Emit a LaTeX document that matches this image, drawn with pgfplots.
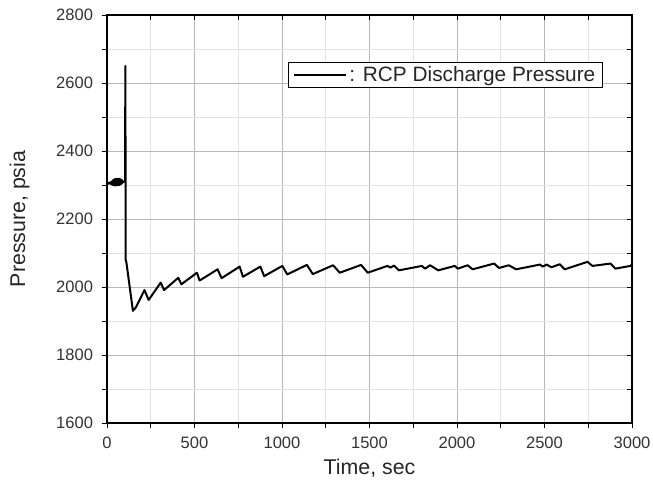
\documentclass[border=0pt]{standalone}
\usepackage{fontspec}
\setmainfont{Liberation Sans}
\usepackage{pgfplots}
\pgfplotsset{compat=1.18}

\pgfplotstableread{
t p
0 2305
4 2306
8 2304
12 2307
16 2304
20 2308
22 2303
24 2309
26 2302
28 2311
30 2301
32 2313
34 2300
36 2315
38 2300
40 2316
42 2299
44 2317
46 2299
48 2318
50 2299
52 2318
54 2299
56 2318
58 2300
60 2318
62 2300
64 2318
66 2300
68 2318
70 2300
72 2318
74 2301
76 2317
78 2302
80 2316
82 2303
84 2315
86 2305
88 2313
90 2307
92 2310
96 2310
103 2311
105 2650
107 2080
111 2072
148 1930
165 1940
214 1991
238 1962
307 2013
326 1991
407 2027
425 2008
514 2042
529 2019
632 2052
655 2026
758 2060
777 2030
876 2060
898 2032
1002 2062
1030 2037
1142 2065
1176 2038
1292 2064
1330 2042
1452 2065
1490 2042
1602 2062
1620 2057
1640 2063
1668 2049
1799 2062
1818 2054
1846 2064
1893 2049
1987 2062
2005 2054
2061 2064
2089 2052
2212 2069
2240 2056
2296 2064
2337 2052
2474 2066
2490 2060
2512 2066
2540 2058
2587 2067
2615 2052
2746 2074
2774 2062
2877 2069
2905 2054
2990 2062
3000 2066
}\datatable

\begin{document}
\begin{tikzpicture}
\begin{axis}[
  at={(0pt,0pt)}, anchor=south west,
  scale only axis, width=393.75pt, height=306pt,
  xmin=0, xmax=3000, ymin=1600, ymax=2800,
  xtick={0,500,...,3000}, minor xtick={250,750,...,2750},
  ytick={1600,1800,...,2800}, minor ytick={1700,1900,...,2700},
  grid=both,
  major grid style={gray!55, line width=0.5pt},
  minor grid style={gray!22, line width=0.5pt},
  tick align=outside, xtick pos=left, ytick pos=left,
  major tick length=4pt, minor tick length=4pt,
  every tick/.style={black, line width=0.7pt},
  axis line style={black, line width=0.9pt},
  ticklabel style={font=\fontsize{12.4}{14}\selectfont, text=black!80},
  /pgf/number format/assume math mode=true,
  /pgf/number format/1000 sep={},
  xticklabel style={yshift=-3pt},
  yticklabel style={xshift=-3pt},
  xlabel={Time, sec}, ylabel={Pressure, psia},
  label style={font=\fontsize{16}{19}\selectfont, text=black!85},
  xlabel style={at={(axis description cs:0.5,-0.125)}, anchor=base},
  ylabel style={at={(axis description cs:-0.156,0.5)}, anchor=base},
  legend style={at={(axis description cs:0.9448,0.8855)}, anchor=north east,
    draw=black, line width=0.6pt, fill=white,
    font=\fontsize{15.6}{18}\selectfont, text=black!85,
    inner xsep=3.5pt, inner ysep=1pt},
  legend image code/.code={\draw[#1, line width=1.1pt] (0pt,0pt) -- (36pt,0pt);
    \path (0pt,0pt) -- (39pt,0pt);},
]
\addplot[black, line width=1.5pt, line join=round] table[x=t, y=p] {\datatable};
\addlegendentry{: RCP Discharge Pressure}
\end{axis}
\begin{axis}[
  at={(0pt,0pt)}, anchor=south west,
  scale only axis, width=393.75pt, height=306pt,
  xmin=0, xmax=3000, ymin=1600, ymax=2800,
  xtick={0,500,...,3000}, minor xtick={250,750,...,2750},
  ytick={1600,1800,...,2800}, minor ytick={1700,1900,...,2700},
  tick align=inside, xtick pos=right, ytick pos=right,
  major tick length=4pt, minor tick length=4pt,
  every tick/.style={black, line width=0.7pt},
  axis line style={black, line width=0.9pt},
  xticklabels={}, yticklabels={},
]
\end{axis}
\pgfresetboundingbox
\path[use as bounding box] (-80.25pt,-42.75pt) rectangle (409.5pt,317.25pt);
\end{tikzpicture}
\end{document}
